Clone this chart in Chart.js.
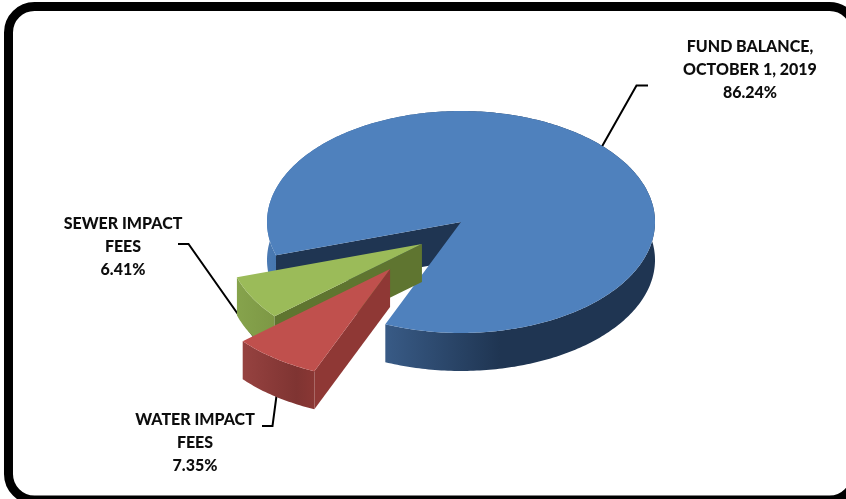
<!doctype html>
<html>

<head>
  <script src="https://cdn.jsdelivr.net/npm/chart.js@4/dist/chart.umd.js"></script>
  <style>
    html, body { margin: 0; background: #fff; }
    canvas { display: block; }
  </style>
</head>

<body>
  <canvas id="canvas" width="846" height="499"></canvas>
  <script>
    const categories = ['FUND BALANCE, OCTOBER 1, 2019', 'WATER IMPACT FEES', 'SEWER IMPACT FEES'];
    const shares = [86.24, 7.35, 6.41];
    const labelLines = [['FUND BALANCE,', 'OCTOBER 1, 2019'], ['WATER IMPACT', 'FEES'], ['SEWER IMPACT', 'FEES']];

    const topColors = ['#4f81bd', '#c0504d', '#9bbb59'];
    const wallColors = ['#1f3552', '#8f3835', '#5f7530'];
    const rimStops = [
      [[0, '#4b7ab3'], [0.03, '#4576ae'], [0.31, '#385a85'], [0.6, '#1f3552'], [1, '#1f3552']],
      [[0, '#964240'], [0.75, '#7f3432'], [1, '#8a3734']],
      [[0, '#86a34c'], [1, '#7d9845']]
    ];

    // tilt of the disc and thickness of the slab
    const SQUASH = 0.572;
    const DEPTH = 38;
    // exploded slices don't leave exactly along their middle angle
    const explodeTurn = [0, 4.6, -15.5];

    // label block centre and first line y, then the leader polyline
    const callouts = [
      { x: 750, y: 47, leader: [[648, 85.5], [636.5, 85.5], [600, 150]] },
      { x: 195, y: 420, leader: [[262, 426], [272.5, 426], [277, 392]] },
      { x: 123, y: 224, leader: [[178, 244], [188.5, 244], [254, 337]] }
    ];

    class Arc3D extends Chart.ArcElement {
      static id = 'arc3d';

      draw(ctx) {
        const { x, y, startAngle, endAngle, outerRadius } = this.getProps(['x', 'y', 'startAngle', 'endAngle', 'outerRadius']);
        const i = this.sliceIndex;
        const mid = (startAngle + endAngle) / 2 + explodeTurn[i] * Math.PI / 180;
        const ou = Math.cos(mid) * this.options.offset;
        const ov = Math.sin(mid) * this.options.offset;

        const project = (u, v) => [x + u, y + SQUASH * v];

        const apex = project(ou, ov);
        const rim = [];
        const steps = Math.ceil((endAngle - startAngle) * 60);
        for (let s = 0; s <= steps; s++) {
          const a = startAngle + (endAngle - startAngle) * s / steps;
          rim.push(project(ou + Math.cos(a) * outerRadius, ov + Math.sin(a) * outerRadius));
        }

        const fillPoly = (pts, style) => {
          ctx.beginPath();
          pts.forEach((p, n) => n ? ctx.lineTo(p[0], p[1]) : ctx.moveTo(p[0], p[1]));
          ctx.closePath();
          ctx.fillStyle = style;
          ctx.fill();
        };
        const drop = (p) => [p[0], p[1] + DEPTH];

        // outer wall, shaded left to right
        const xs = rim.map((p) => p[0]);
        const grad = ctx.createLinearGradient(Math.min(...xs), 0, Math.max(...xs), 0);
        rimStops[i].forEach((s) => grad.addColorStop(s[0], s[1]));
        fillPoly(rim.concat(rim.map(drop).reverse()), grad);

        // only the wall on the leading edge faces the viewer here
        fillPoly([apex, rim[0], drop(rim[0]), drop(apex)], wallColors[i]);

        fillPoly([apex].concat(rim), topColors[i]);
      }
    }

    class Pie3DController extends Chart.PieController {
      static id = 'pie3d';
      static defaults = { dataElementType: 'arc3d' };
      static overrides = Chart.PieController.overrides;

      // least exploded slices first, so nearer ones paint over them
      draw() {
        const ctx = this.chart.ctx;
        const arcs = this.getMeta().data.slice();
        arcs.forEach((arc, i) => { arc.sliceIndex = i; });
        arcs.sort((a, b) => a.options.offset - b.options.offset);
        arcs.forEach((arc) => arc.draw(ctx));
      }
    }

    Chart.register(Arc3D, Pie3DController);

    const frame = {
      id: 'frame',
      beforeDatasetsDraw(chart) {
        const ctx = chart.ctx;
        ctx.save();
        ctx.strokeStyle = '#000';
        ctx.lineWidth = 9;
        ctx.beginPath();
        ctx.roundRect(8.5, 6.5, 847, 493.5, 26);
        ctx.stroke();
        ctx.restore();
      }
    };

    const callout = {
      id: 'callout',
      beforeDatasetsDraw(chart) {
        const ctx = chart.ctx;
        ctx.save();
        ctx.strokeStyle = '#000';
        ctx.lineWidth = 2;
        callouts.forEach((c) => {
          ctx.beginPath();
          c.leader.forEach((p, n) => n ? ctx.lineTo(p[0], p[1]) : ctx.moveTo(p[0], p[1]));
          ctx.stroke();
        });
        ctx.fillStyle = '#0d0d0d';
        ctx.font = '900 16px Lato';
        ctx.textAlign = 'center';
        ctx.textBaseline = 'middle';
        callouts.forEach((c, i) => {
          labelLines[i].concat(shares[i].toFixed(2) + '%').forEach((line, n) => {
            ctx.fillText(line, c.x, c.y + n * 22.8);
          });
        });
        ctx.restore();
      }
    };

    new Chart(document.getElementById('canvas').getContext('2d'), {
      type: 'pie3d',
      data: {
        labels: categories,
        datasets: [{
          data: shares,
          backgroundColor: topColors,
          offset: [0, 108.6, 54.8]
        }]
      },
      options: {
        responsive: false,
        animation: false,
        rotation: 252.5,
        radius: 194,
        layout: { padding: { left: 76, bottom: 55 } },
        plugins: { legend: { display: false }, tooltip: { enabled: false } }
      },
      plugins: [frame, callout]
    });
  </script>
</body>

</html>
